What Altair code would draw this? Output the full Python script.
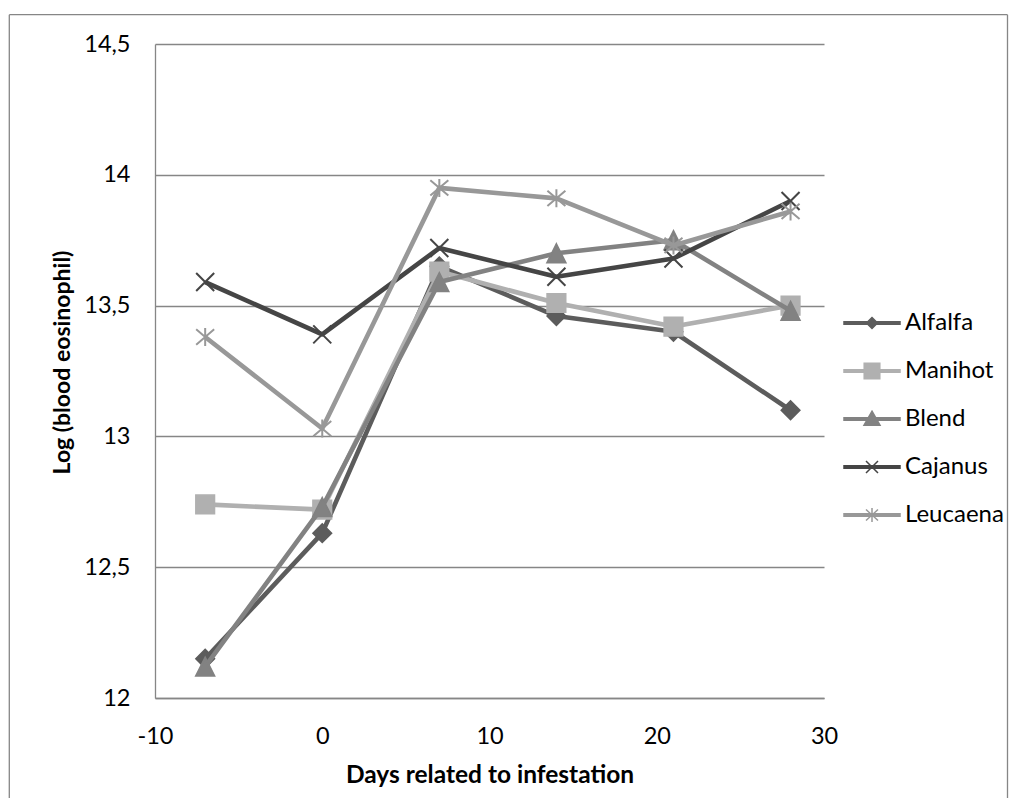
import altair as alt
import pandas as pd

# ---------------- data ----------------
days = [-7, 0, 7, 14, 21, 28]
series_names = ["Alfalfa", "Manihot", "Blend", "Cajanus", "Leucaena"]
alfalfa = [12.15, 12.63, 13.65, 13.46, 13.40, 13.10]
manihot = [12.74, 12.72, 13.63, 13.51, 13.42, 13.50]
blend = [12.12, 12.73, 13.59, 13.70, 13.75, 13.48]
cajanus = [13.59, 13.39, 13.72, 13.61, 13.68, 13.90]
leucaena = [13.38, 13.03, 13.95, 13.91, 13.73, 13.86]
y_ticks = [12, 12.5, 13, 13.5, 14, 14.5]
x_ticks = [-10, 0, 10, 20, 30]

values = [alfalfa, manihot, blend, cajanus, leucaena]
rows = []
for name, vals in zip(series_names, values):
    for d, v in zip(days, vals):
        rows.append({"series": name, "day": d, "value": v})
df = pd.DataFrame(rows)

# ---------------- styles ----------------
colors = ["#5c5c5c", "#b0b0b0", "#828282", "#454545", "#989898"]
marker_paths = [
    "diamond",
    "square",
    "M0,-1L1,1H-1Z",
    "M-1,-1L1,1M1,-1L-1,1",
    "M-1,-0.85L1,0.85M1,-0.85L-1,0.85M0,-1V1",
]
marker_sizes = [350, 350, 361, 324, 324]
marker_sw = [1.5, 1.5, 1.5, 2, 2]
bar = "M-2.8,-0.13H2.8V0.13H-2.8Z "
legend_paths = [
    bar + "M0,-0.55L0.55,0L0,0.55L-0.55,0Z",
    bar + "M-0.78,-0.78H0.78V0.78H-0.78Z",
    bar + "M0,-0.78L0.8,0.62H-0.8Z",
    bar + "M-0.6,-0.6L0.6,0.6M0.6,-0.6L-0.6,0.6",
    bar + "M-0.6,-0.55L0.6,0.55M0.6,-0.55L-0.6,0.55M0,-0.7V0.7",
]

FONT = "Lato"
GRID = "#868686"

x_enc = alt.X(
    "day:Q",
    scale=alt.Scale(domain=[-10, 30], nice=False, zero=False),
    axis=alt.Axis(
        values=x_ticks, labelExpr="'' + datum.value", grid=False, ticks=False,
        labelFlush=False,
        labelPadding=26, labelFont=FONT, labelFontSize=23.5, labelColor="black",
        domainColor=GRID, domainWidth=1.3,
        title="Days related to infestation", titleFont=FONT, titleFontSize=24.5,
        titleFontWeight="bold", titleColor="black", titleX=334.5, titleY=84,
        titleBaseline="alphabetic", titleAlign="center",
    ),
)
y_enc = alt.Y(
    "value:Q",
    scale=alt.Scale(domain=[12, 14.5], nice=False, zero=False),
    axis=alt.Axis(
        values=y_ticks, labelExpr="replace(format(datum.value, '.1~f'), '.', ',')",
        grid=True, gridColor=GRID, gridWidth=1.3, ticks=False, labelFlush=False,
        labelPadding=25, labelFont=FONT, labelFontSize=23.5, labelColor="black",
        domainColor=GRID, domainWidth=1.3,
        title="Log (blood eosinophil)", titleFont=FONT, titleFontSize=23,
        titleFontWeight="bold", titleColor="black", titleX=-86, titleY=318,
        titleAngle=270, titleBaseline="alphabetic", titleAlign="center",
    ),
)

one = pd.DataFrame({"a": [0]})
frame_top = alt.Chart(one).mark_rule(color=GRID, strokeWidth=1.3).encode(
    x=alt.value(-145.7), x2=alt.value(852.5), y=alt.value(-29.3))
frame_left = alt.Chart(one).mark_rule(color=GRID, strokeWidth=1.3).encode(
    x=alt.value(-145.7), y=alt.value(-29.3), y2=alt.value(760))
frame_right = alt.Chart(one).mark_rule(color=GRID, strokeWidth=1.3).encode(
    x=alt.value(852.5), y=alt.value(-29.3), y2=alt.value(760))

layers = [frame_top, frame_left, frame_right]
for i, name in enumerate(series_names):
    base = alt.Chart(df).transform_filter(alt.datum.series == name)
    line = base.mark_line(color=colors[i], strokeWidth=4.6, strokeJoin="round").encode(
        x=x_enc, y=y_enc)
    pts = base.mark_point(
        shape=marker_paths[i], size=marker_sizes[i], filled=True, fill=colors[i],
        stroke=colors[i], strokeWidth=marker_sw[i], opacity=1,
    ).encode(x=x_enc, y=y_enc)
    layers += [line, pts]

leg = alt.Legend(
    title=None, orient="none", legendX=705, legendY=267, padding=0,
    symbolSize=400, symbolStrokeWidth=1.5, symbolOpacity=1,
    labelFont=FONT, labelFontSize=24, labelColor="black", labelOffset=21,
    rowPadding=24,
)
legend_layer = alt.Chart(df).transform_filter("datum.day > 1000").mark_point(
    filled=True, strokeWidth=1.5, opacity=1
).encode(
    x=x_enc, y=y_enc,
    color=alt.Color("series:N", scale=alt.Scale(domain=series_names, range=colors), legend=leg),
    stroke=alt.Stroke("series:N", scale=alt.Scale(domain=series_names, range=colors), legend=leg),
    shape=alt.Shape("series:N", scale=alt.Scale(domain=series_names, range=legend_paths), legend=leg),
)
layers.append(legend_layer)

chart = alt.layer(*layers).properties(
    width=669, height=654,
    padding={"left": 147, "top": 36, "right": 185, "bottom": 100},
    autosize=alt.AutoSizeParams(type="none"),
    background="white",
).configure_view(stroke=None)

chart.save("out.html", embed_options={"renderer": "svg", "actions": False})
